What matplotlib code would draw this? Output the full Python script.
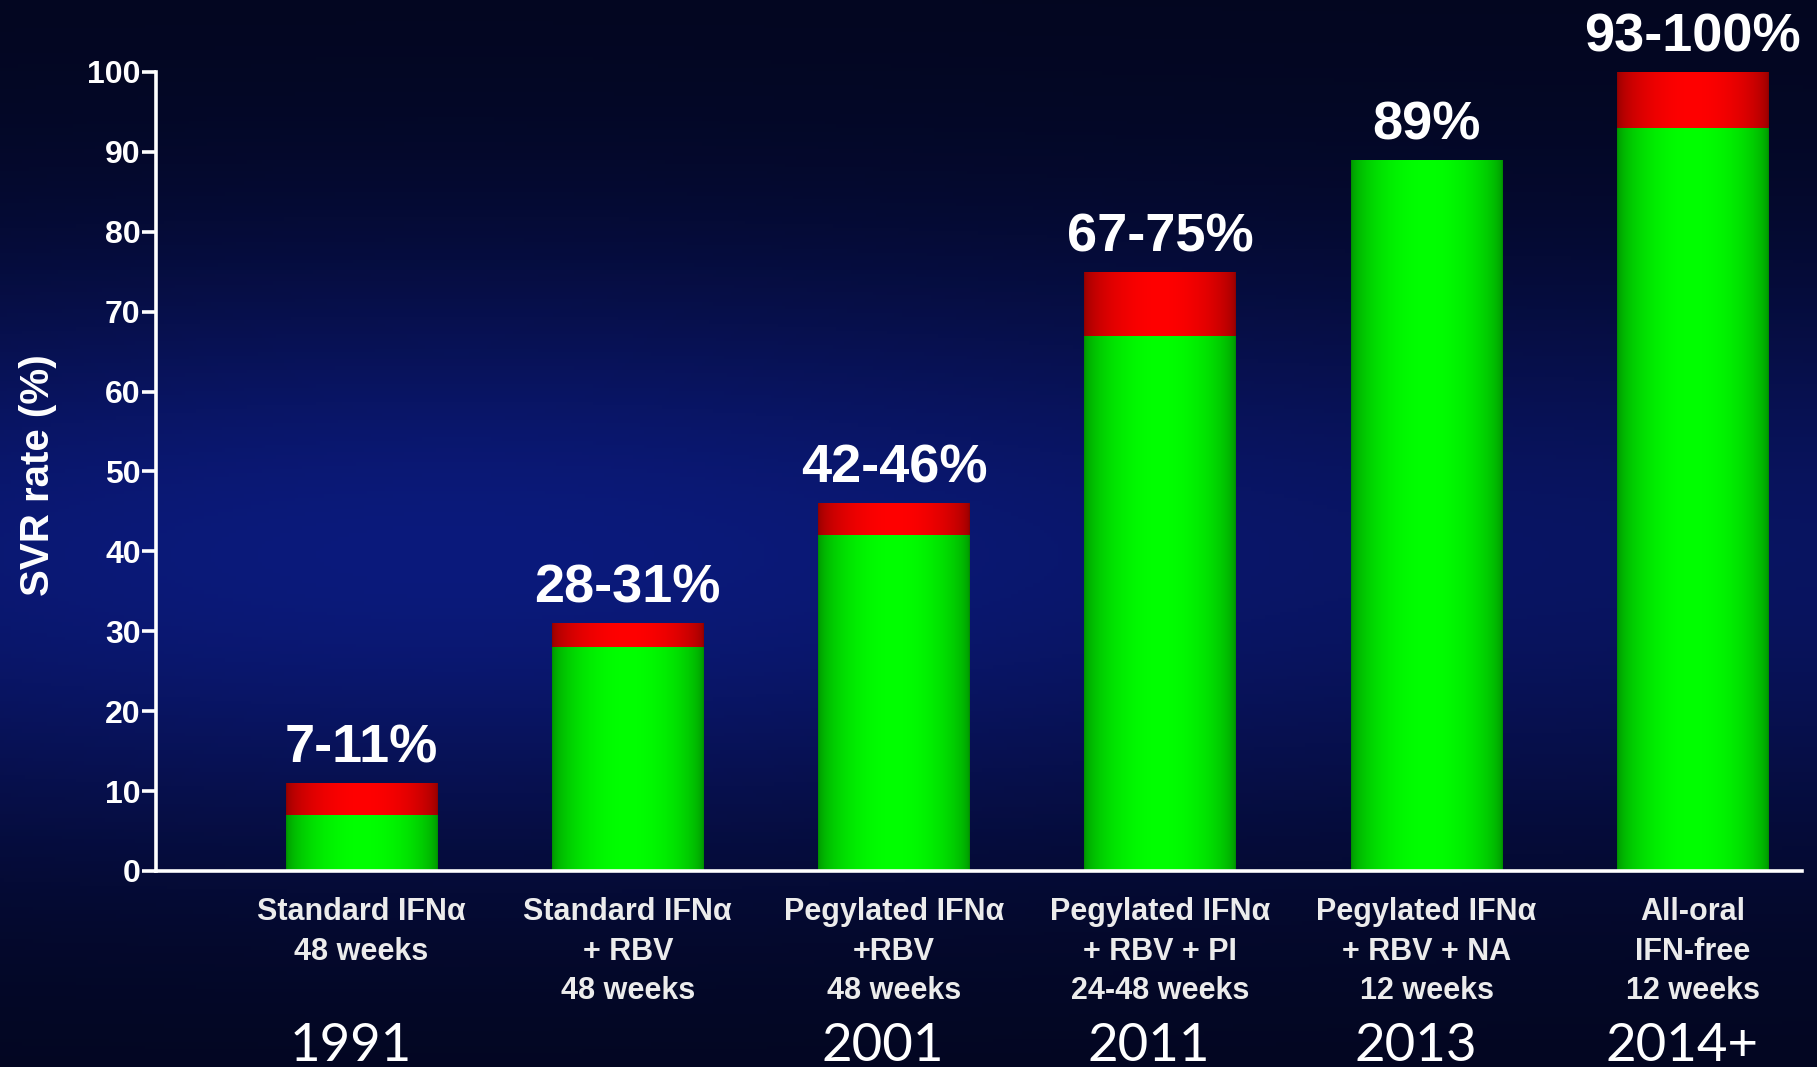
import numpy as np
import matplotlib.pyplot as plt
from matplotlib.colors import to_rgb

# SVR rate by HCV treatment era
treatments = ["Standard IFNα\n48 weeks",
              "Standard IFNα\n+ RBV\n48 weeks",
              "Pegylated IFNα\n+RBV\n48 weeks",
              "Pegylated IFNα\n+ RBV + PI\n24-48 weeks",
              "Pegylated IFNα\n+ RBV + NA\n12 weeks",
              "All-oral\nIFN-free\n12 weeks"]
years = ["1991", "", "2001", "2011", "2013", "2014+"]
svr_low = [7, 28, 42, 67, 89, 93]
svr_high = [11, 31, 46, 75, 89, 100]
yticks = [0, 10, 20, 30, 40, 50, 60, 70, 80, 90, 100]

W, H = 1817, 1067
fig = plt.figure(figsize=(W / 100, H / 100), dpi=100)

# dark blue backdrop, brighter in the middle-left
bg = fig.add_axes([0, 0, 1, 1], zorder=-10)
bg.set_axis_off()
yy, xx = np.mgrid[0:1:300j, 0:1:500j]
glow = np.exp(-((yy - 0.52) / 0.27) ** 2) * (0.7 + 0.3 * np.exp(-((xx - 0.25) / 0.4) ** 2))
dark = np.array(to_rgb("#03061f"))
blue = np.array(to_rgb("#0b1a7c"))
img = dark + glow[..., None] * (blue - dark)
bg.imshow(img, extent=[0, 1, 0, 1], aspect="auto", origin="upper")
bg.set_xlim(0, 1)
bg.set_ylim(0, 1)

ax = fig.add_axes([156 / W, 1 - 871 / H, (1802 - 156) / W, (871 - 72) / H])
ax.patch.set_alpha(0)

x = np.arange(len(treatments))
width = 0.57

# cylinder-like shading across each bar
u = np.linspace(0, 1, 200)
shade = 0.55 + 0.45 * np.sqrt(np.sin(np.pi * u))


def shaded(color):
    c = np.array(to_rgb(color))
    return (shade[:, None] * c)[None, :, :]


def fill_bars(bars, color):
    for b in bars:
        if b.get_height() <= 0:
            continue
        x0, y0 = b.get_x(), b.get_y()
        im = ax.imshow(shaded(color), extent=[x0, x0 + b.get_width(), y0, y0 + b.get_height()],
                       aspect="auto", interpolation="bilinear", zorder=2)
        im.set_clip_path(b)


low = np.array(svr_low)
high = np.array(svr_high)
green = ax.bar(x, low, width, color="none", edgecolor="none", zorder=2)
red = ax.bar(x, high - low, width, bottom=low, color="none", edgecolor="none", zorder=2)
fill_bars(green, "#00ff00")
fill_bars(red, "#ff0000")

ax.set_xlim(-0.772, 5.41)
ax.set_ylim(0, 100)

for s in ["top", "right"]:
    ax.spines[s].set_visible(False)
for s in ["left", "bottom"]:
    ax.spines[s].set_color("white")
    ax.spines[s].set_linewidth(2.6)

ax.set_yticks(yticks)
ax.tick_params(axis="y", colors="white", length=10, width=2.6, pad=1)
ax.set_xticks([])
for lab in ax.get_yticklabels():
    lab.set_fontfamily("Liberation Sans")
    lab.set_fontweight("bold")
    lab.set_fontsize(23)

fig.text(0.021, 0.555, "SVR rate (%)", rotation=90, color="white", ha="center", va="center",
         fontsize=29, fontweight="bold", family="Liberation Sans")

# range labels above bars
for xi, lo, hi in zip(x, svr_low, svr_high):
    txt = f"{lo}-{hi}%" if lo != hi else f"{lo}%"
    ax.annotate(txt, (xi, hi), xytext=(0, 7), textcoords="offset points",
                ha="center", va="bottom", color="white", fontsize=39, fontweight="bold",
                family="Liberation Sans")

# treatment names under the axis
for xi, name in zip(x, treatments):
    ax.annotate(name, (xi, 0), xytext=(0, -19), textcoords="offset points",
                ha="center", va="top", color="#ececec", fontsize=22, fontweight="bold",
                family="Liberation Sans", linespacing=1.4, annotation_clip=False)

# year of introduction
for xi, yr in zip(x, years):
    if yr:
        ax.annotate(yr, (xi, 0), xytext=(-8, 4), textcoords="offset points",
                    xycoords=("data", "figure fraction"),
                    ha="center", va="baseline", color="white", fontsize=38,
                    family="Lato", annotation_clip=False)

fig.savefig("out.png", dpi=100)
